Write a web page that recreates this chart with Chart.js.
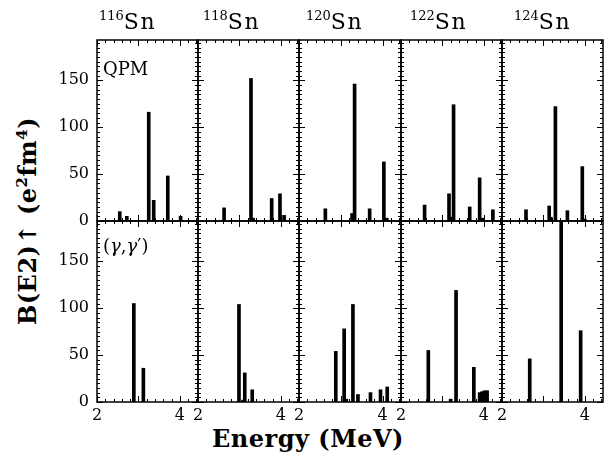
<!DOCTYPE html>
<html>
<head>
<meta charset="utf-8">
<script src="https://cdn.jsdelivr.net/npm/chart.js@4/dist/chart.umd.min.js"></script>
<style>
  body { margin: 0; background: #fff; }
  #wrap { position: relative; width: 611px; height: 459px; overflow: hidden; font-family: 'DejaVu Serif', serif; color: #000; }
  canvas { position: absolute; }
  .iso { position: absolute; top: 11px; font-size: 22px; line-height: 22px; letter-spacing: 1.5px; }
  .iso sup { font-size: 13px; position: relative; top: -9px; vertical-align: baseline; letter-spacing: 0; }
  .tag { position: absolute; font-size: 18px; line-height: 18px; }
  #ylab { position: absolute; left: 27px; top: 221px; transform: translate(-50%, -50%) rotate(-90deg); font-size: 24px; font-weight: bold; white-space: nowrap; letter-spacing: 0.5px; }
  #ylab sup { font-size: 15px; position: relative; top: -9px; vertical-align: baseline; }
  #xlab { position: absolute; left: 308px; top: 424px; transform: translateX(-50%); font-size: 24px; font-weight: bold; white-space: nowrap; letter-spacing: 0.5px; }
</style>
</head>
<body>
<div id="wrap">
  <div id="ylab">B(E2)&uarr; (e<sup>2</sup>fm<sup>4</sup>)</div>
  <div id="xlab">Energy (MeV)</div>
</div>
<script>
// axis ranges and tick labels
const energyMin = 2;
const energyMax = 4.44;
const bMax = 193;
const xTickLabels = [2, 4];
const yTickLabels = [0, 50, 100, 150];

const isotopes = ['116', '118', '120', '122', '124'];
const rowLabels = ['QPM', '(<i>γ</i>,<i>γ</i>′)'];

// QPM calculations: energies (MeV) and B(E2) up (e^2 fm^4)
const qpmE116 = [2.55, 2.72, 3.25, 3.37, 3.71, 4.02];
const qpmB116 = [10, 5, 116, 22, 48, 5];
const qpmE118 = [2.63, 3.28, 3.33, 3.78, 3.98, 4.08];
const qpmB118 = [14, 152, 3, 24, 29, 6];
const qpmE120 = [2.63, 3.27, 3.33, 3.69, 4.03, 4.10];
const qpmB120 = [13, 8, 146, 13, 63, 3];
const qpmE122 = [2.57, 3.16, 3.22, 3.27, 3.66, 3.90, 3.97, 4.22];
const qpmB122 = [17, 29, 4, 124, 15, 46, 3, 12];
const qpmE124 = [2.58, 3.14, 3.18, 3.29, 3.58, 3.94, 4.00];
const qpmB124 = [12, 16, 4, 122, 11, 58, 2];

// (gamma,gamma') measurements
const expE116 = [2.89, 3.12];
const expB116 = [105, 36];
const expE118 = [2.99, 3.09, 3.13, 3.31];
const expB118 = [104, 2, 31, 13];
const expE120 = [2.88, 3.08, 3.13, 3.29, 3.41, 3.71, 3.95, 4.11];
const expB120 = [54, 78, 3, 104, 8, 10, 13, 16];
const expE122 = [2.66, 3.20, 3.33, 3.76, 3.90, 3.96, 4.02, 4.08];
const expB122 = [55, 3, 119, 37, 10, 11, 12, 12];
const expE124 = [2.67, 3.43, 3.90];
const expB124 = [46, 200, 76];

const rows = [
  [[qpmE116, qpmB116], [qpmE118, qpmB118], [qpmE120, qpmB120], [qpmE122, qpmB122], [qpmE124, qpmB124]],
  [[expE116, expB116], [expE118, expB118], [expE120, expB120], [expE122, expB122], [expE124, expB124]]
];

const panelTop = [40, 221];
const panelH = 181;
const colLeft = [0, 1, 2, 3, 4, 5].map(i => Math.round(97 + i * 101.2));
const titleLeft = [99, 203, 306, 410, 514];

// inward tick marks + frame, placed with the chart's own scales
const framePlugin = {
  id: 'frame',
  afterDraw(chart) {
    const {ctx, chartArea: a} = chart;
    const x = chart.scales.x, y = chart.scales.y;
    ctx.save();
    ctx.strokeStyle = '#000';
    ctx.lineWidth = 1;
    ctx.beginPath();
    for (let i = 0; i <= 12; i++) {
      const v = energyMin + i * 0.2;
      if (v > energyMax) break;
      const px = Math.round(x.getPixelForValue(v)) + 0.5;
      const len = Math.abs(v - Math.round(v)) < 1e-6 ? 6 : 3;
      ctx.moveTo(px, a.bottom); ctx.lineTo(px, a.bottom - len);
      ctx.moveTo(px, a.top); ctx.lineTo(px, a.top + len);
    }
    for (let v = 0; v <= bMax; v += 5) {
      const py = Math.round(y.getPixelForValue(v)) + 0.5;
      const len = v % 50 === 0 ? 6 : 3;
      ctx.moveTo(a.left, py); ctx.lineTo(a.left + len, py);
      ctx.moveTo(a.right, py); ctx.lineTo(a.right - len, py);
    }
    ctx.stroke();
    ctx.lineWidth = 1.5;
    ctx.strokeRect(a.left, a.top, a.right - a.left, a.bottom - a.top);
    ctx.restore();
  }
};

const wrap = document.getElementById('wrap');

rows.forEach((row, r) => {
  row.forEach(([energies, values], c) => {
    const L = c === 0 ? 64 : 24, R = 24, T = 24, B = r === 1 ? 36 : 24;
    const yW = c === 0 ? 52 : 0, xH = r === 1 ? 22 : 0;
    const w = colLeft[c + 1] - colLeft[c];
    const cv = document.createElement('canvas');
    cv.width = w + L + R;
    cv.height = panelH + T + B;
    cv.style.left = (colLeft[c] - L) + 'px';
    cv.style.top = (panelTop[r] - T) + 'px';
    wrap.appendChild(cv);

    new Chart(cv, {
      type: 'bar',
      data: {
        datasets: [{
          data: energies.map((e, i) => ({x: e, y: values[i]})),
          backgroundColor: '#000',
          barThickness: 3,
          grouped: false
        }]
      },
      options: {
        responsive: false,
        animation: false,
        events: [],
        layout: {padding: {left: L - yW, right: R, top: T, bottom: B - xH}},
        plugins: {legend: {display: false}, tooltip: {enabled: false}},
        scales: {
          x: {
            type: 'linear',
            min: energyMin,
            max: energyMax,
            offset: false,
            display: r === 1,
            grid: {display: false, drawTicks: false, offset: false},
            border: {display: false},
            afterBuildTicks: s => { s.ticks = xTickLabels.map(v => ({value: v})); },
            afterFit: s => { s.height = xH; },
            ticks: {color: '#000', padding: 4, autoSkip: false, maxRotation: 0,
                    font: {family: 'DejaVu Serif', size: 16}, callback: v => String(v)}
          },
          y: {
            min: 0,
            max: bMax,
            display: c === 0,
            grid: {display: false, drawTicks: false},
            border: {display: false},
            afterBuildTicks: s => { s.ticks = yTickLabels.map(v => ({value: v})); },
            afterFit: s => { s.width = yW; },
            ticks: {color: '#000', padding: 8, autoSkip: false,
                    font: {family: 'DejaVu Serif', size: 16}, callback: v => String(v)}
          }
        }
      },
      plugins: [framePlugin]
    });
  });
});

isotopes.forEach((iso, c) => {
  const d = document.createElement('div');
  d.className = 'iso';
  d.style.left = titleLeft[c] + 'px';
  d.innerHTML = '<sup>' + iso + '</sup>Sn';
  wrap.appendChild(d);
});

rowLabels.forEach((txt, r) => {
  const d = document.createElement('div');
  d.className = 'tag';
  d.style.left = '103px';
  d.style.top = (panelTop[r] + (r === 0 ? 20 : 16)) + 'px';
  d.innerHTML = txt;
  wrap.appendChild(d);
});
</script>
</body>
</html>
